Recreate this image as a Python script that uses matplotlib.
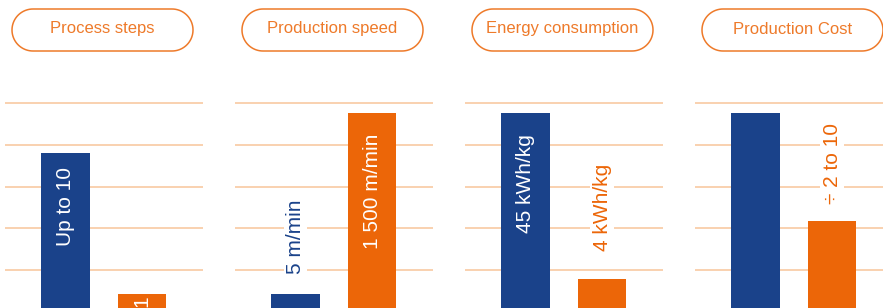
import numpy as np
import matplotlib
matplotlib.use("Agg")
import matplotlib.pyplot as plt
from matplotlib.patches import Polygon

plt.rcParams['font.family'] = ['Liberation Sans', 'DejaVu Sans']

# ------------------------------------------
# data (grid spacing = 1 unit)
titles = ["Process steps", "Production speed", "Energy consumption", "Production Cost"]
blue_vals = [3.80, 0.43, 4.76, 4.76]
orange_vals = [0.43, 4.76, 0.78, 2.17]
blue_labels = ["Up to 10", "5 m/min", "45 kWh/kg", ""]
orange_labels = ["1", "1 500 m/min", "4 kWh/kg", "÷ 2 to 10"]
blue_label_y = [2.51, 1.79, 3.06, 0]
orange_label_y = [0.25, 2.89, 2.51, 3.56]
grid_levels = [1, 2, 3, 4, 5]

BLUE = "#1A428A"
ORANGE = "#EC6608"
TITLE = "#EE7A2A"
GRID = "#F8C9A2"

W, H = 883, 308
fig = plt.figure(figsize=(W / 100, H / 100), dpi=100)

px_per_unit = 41.75
base_px = 311.75  # pixel row of value 0

for i in range(4):
    left = 5 + 230 * i
    width = 198 if i < 3 else W - left
    ax = fig.add_axes([left / W, 0, width / W, 1])
    ax.patch.set_visible(False)
    ax.set_ylim((base_px - H) / px_per_unit, base_px / px_per_unit)
    ax.set_xlim(-60.5 / 76.5, (width - 60.5) / 76.5)

    ax.bar([0, 1], [blue_vals[i], orange_vals[i]], width=0.64,
           color=[BLUE, ORANGE], zorder=3)

    ax.set_yticks(grid_levels)
    ax.grid(axis='y', color=GRID, lw=1.2, zorder=1)
    ax.tick_params(left=False, bottom=False, labelleft=False, labelbottom=False)
    for s in ax.spines.values():
        s.set_visible(False)

    for xpos, val, lab, ly, col in [(0, blue_vals[i], blue_labels[i], blue_label_y[i], BLUE),
                                    (1, orange_vals[i], orange_labels[i], orange_label_y[i], ORANGE)]:
        if not lab:
            continue
        if ly < val:
            ax.text(xpos, ly, lab, rotation=90, ha='center', va='center',
                    color='white', fontsize=15, zorder=4)
        else:
            ax.text(xpos, ly, lab, rotation=90, ha='center', va='center',
                    color=col, fontsize=15, zorder=4,
                    bbox=dict(facecolor='white', edgecolor='none', pad=1.5))

# overlay axes in pixel units (y up) for the pill titles
bg = fig.add_axes([0, 0, 1, 1])
bg.set_xlim(0, W)
bg.set_ylim(0, H)
bg.axis('off')


def pill_outline(x0, y0, w, h):
    r = h / 2
    t = np.linspace(-np.pi / 2, np.pi / 2, 40)
    right = np.column_stack([x0 + w - r + r * np.cos(t), y0 + r + r * np.sin(t)])
    left = np.column_stack([x0 + r - r * np.cos(t), y0 + r - r * np.sin(t)])
    return np.vstack([right, left])


for i in range(4):
    x0 = 12 + 230 * i
    pill = Polygon(pill_outline(x0, H - 51, 181, 42), closed=True,
                   facecolor='white', edgecolor=TITLE, lw=1.1)
    bg.add_patch(pill)
    bg.text(x0 + 90.5, H - 29, titles[i], ha='center', va='center',
            color=TITLE, fontsize=12)

fig.savefig('out.png', dpi=100)
